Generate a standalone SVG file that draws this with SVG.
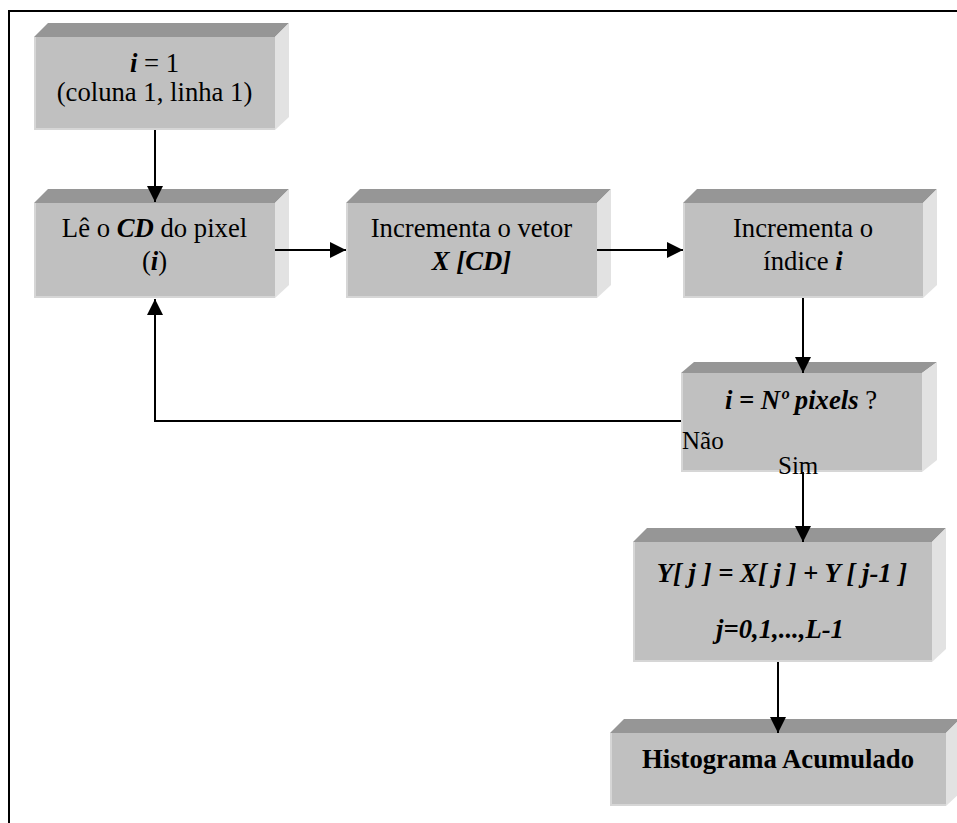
<svg xmlns="http://www.w3.org/2000/svg" width="957" height="823" viewBox="0 0 957 823">
<defs>
<style>
.front{fill:#c0c0c0}
.top{fill:#969696}
.side{fill:#e2e2e2}
.hl{stroke:#d6d6d6;stroke-width:2;fill:none}
.t{font-family:"Liberation Serif","Times New Roman",serif;font-size:26.7px;fill:#000;text-anchor:middle}
.bi{font-weight:bold;font-style:italic}
.b{font-weight:bold}
.lbl{font-family:"Liberation Serif","Times New Roman",serif;font-size:25px;fill:#000}
.conn{stroke:#000;stroke-width:2;fill:none}
</style>
<marker id="arr" viewBox="0 0 16 16" refX="16" refY="8" markerWidth="16" markerHeight="16" markerUnits="userSpaceOnUse" orient="auto">
<path d="M0,0 L16,8 L0,16 Z" fill="#000"/>
</marker>
</defs>
<rect width="957" height="823" fill="#fff"/>
<path d="M9,823 V11 H957" stroke="#000" stroke-width="2" fill="none"/>

<g id="n1">
<polygon class="top" points="34,37 48,23 289,23 275,37"/>
<polygon class="side" points="275,37 289,23 289,117 275,130"/>
<rect class="front" x="34" y="37" width="241" height="93"/>
<path class="hl" d="M35,37 V129 H275"/>
<text class="t" x="154.5" y="72"><tspan class="bi">i</tspan> = 1</text>
<text class="t" x="154.5" y="101">(coluna 1, linha 1)</text>
</g>

<g id="n2">
<polygon class="top" points="34,203 48,189 289,189 275,203"/>
<polygon class="side" points="275,203 289,189 289,285 275,298"/>
<rect class="front" x="34" y="203" width="241" height="95"/>
<path class="hl" d="M35,203 V297 H275"/>
<text class="t" x="154.5" y="237">Lê o <tspan class="bi">CD</tspan> do pixel</text>
<text class="t" x="154.5" y="270">(<tspan class="bi">i</tspan>)</text>
</g>

<g id="n3">
<polygon class="top" points="346,203 360,189 611,189 597,203"/>
<polygon class="side" points="597,203 611,189 611,285 597,298"/>
<rect class="front" x="346" y="203" width="251" height="95"/>
<path class="hl" d="M347,203 V297 H597"/>
<text class="t" x="471.5" y="237">Incrementa o vetor</text>
<text class="t bi" x="471.5" y="270">X [CD]</text>
</g>

<g id="n4">
<polygon class="top" points="683,203 697,189 937,189 923,203"/>
<polygon class="side" points="923,203 937,189 937,285 923,298"/>
<rect class="front" x="683" y="203" width="240" height="95"/>
<path class="hl" d="M684,203 V297 H923"/>
<text class="t" x="803" y="237">Incrementa o</text>
<text class="t" x="803" y="270">índice <tspan class="bi">i</tspan></text>
</g>

<g id="n5">
<polygon class="top" points="681,373 694,362 937,362 922,373"/>
<polygon class="side" points="922,373 937,362 937,460 922,472"/>
<rect class="front" x="681" y="373" width="241" height="99"/>
<path class="hl" d="M682,373 V471 H922"/>
<text class="t" x="801" y="409"><tspan class="bi">i = Nº pixels</tspan> ?</text>
</g>

<g id="n6">
<polygon class="top" points="633,542 647,528 946,528 932,542"/>
<polygon class="side" points="932,542 946,528 946,649 932,662"/>
<rect class="front" x="633" y="542" width="299" height="120"/>
<path class="hl" d="M634,542 V661 H932"/>
<text class="t bi" x="782" y="582">Y[ j ] = X[ j ] + Y [ j-1 ]</text>
<text class="t bi" x="780" y="638">j=0,1,...,L-1</text>
</g>

<g id="n7">
<polygon class="top" points="610,733 624,719 960,719 946,733"/>
<polygon class="side" points="946,733 960,719 960,793 946,806"/>
<rect class="front" x="610" y="733" width="336" height="73"/>
<path class="hl" d="M611,733 V805 H946"/>
<text class="t b" x="778" y="768">Histograma Acumulado</text>
</g>

<g id="connectors">
<line class="conn" x1="155" y1="130" x2="155" y2="202" marker-end="url(#arr)"/>
<line class="conn" x1="275" y1="250" x2="346" y2="250" marker-end="url(#arr)"/>
<line class="conn" x1="597" y1="250" x2="683" y2="250" marker-end="url(#arr)"/>
<line class="conn" x1="803" y1="298" x2="803" y2="373" marker-end="url(#arr)"/>
<polyline class="conn" points="681,421 155,421 155,299" marker-end="url(#arr)"/>
<line class="conn" x1="803" y1="472" x2="803" y2="542" marker-end="url(#arr)"/>
<line class="conn" x1="778" y1="662" x2="778" y2="733" marker-end="url(#arr)"/>
<text class="lbl" x="682" y="449">Não</text>
<text class="lbl" x="778" y="474">Sim</text>
</g>
</svg>
